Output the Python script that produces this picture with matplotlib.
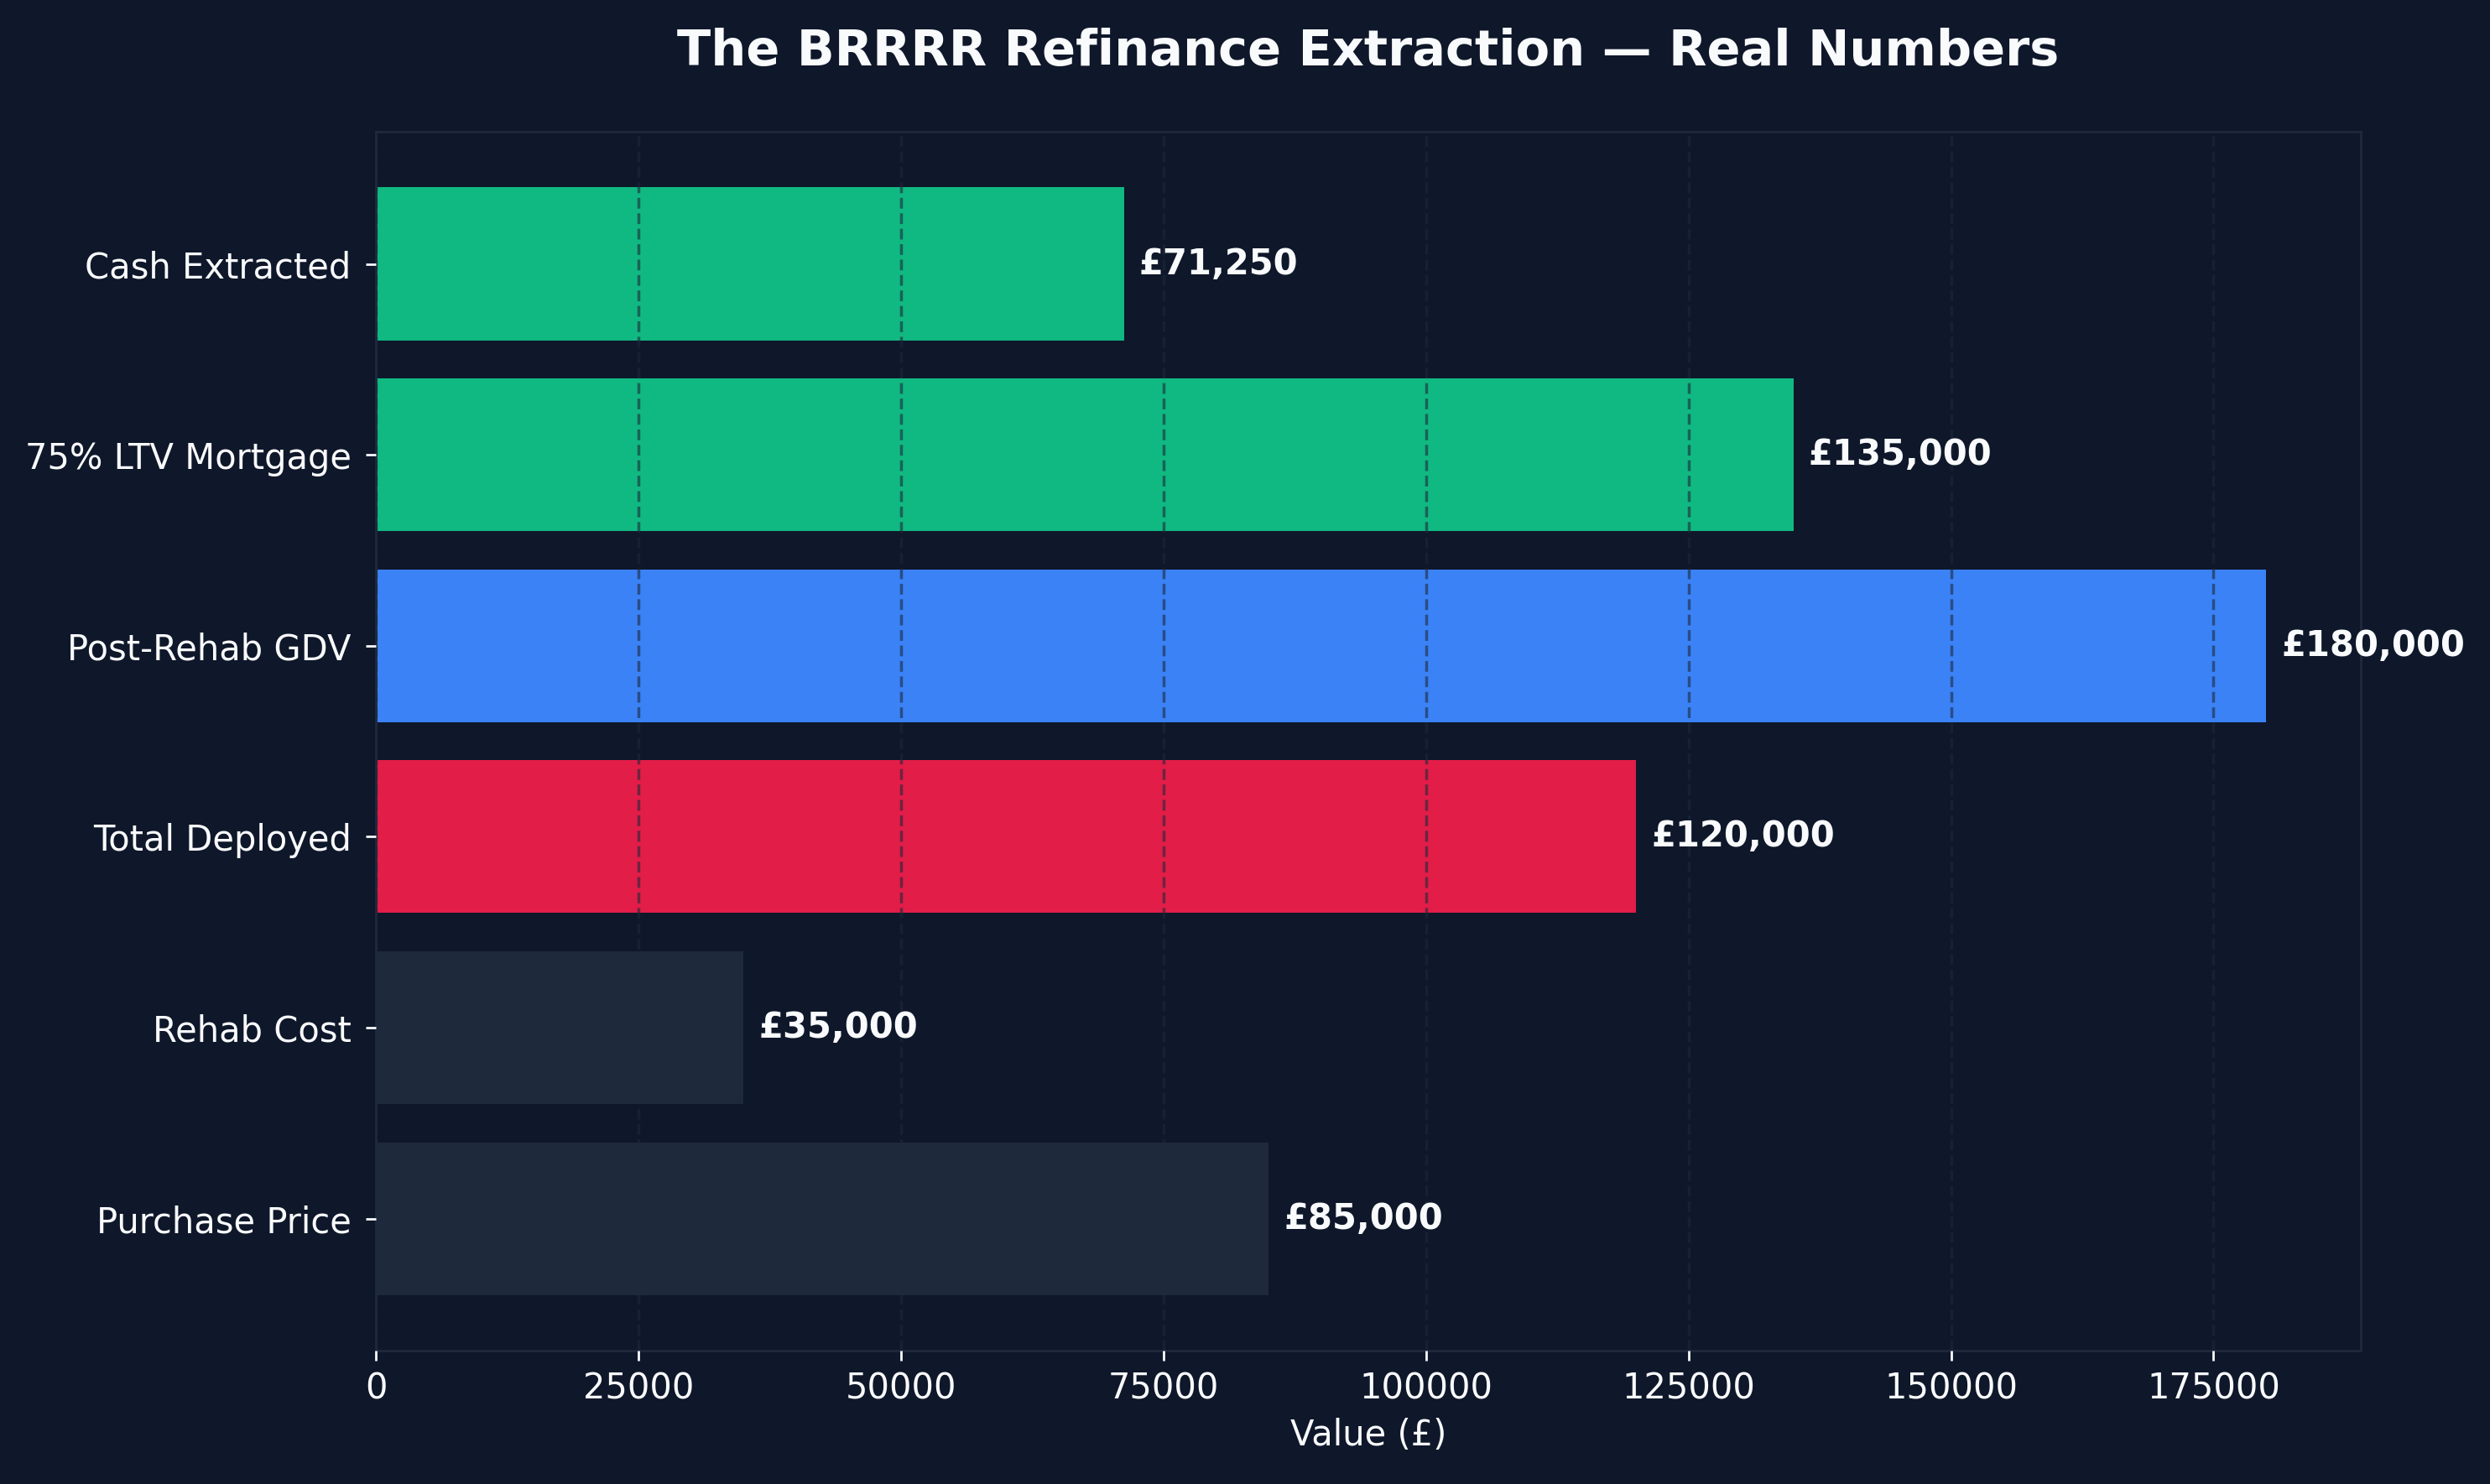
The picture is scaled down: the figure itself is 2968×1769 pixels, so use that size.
import numpy as np
import matplotlib.pyplot as plt

# BRRRR deal numbers (bottom to top)
labels = ['Purchase Price', 'Rehab Cost', 'Total Deployed', 'Post-Rehab GDV',
          '75% LTV Mortgage', 'Cash Extracted']
values = [85000, 35000, 120000, 180000, 135000, 71250]
colors = ['#1e293b', '#1e293b', '#e11d48', '#3b82f6', '#10b981', '#10b981']

BG = '#0f172a'
TXT = '#f8fafc'

fig, ax = plt.subplots(figsize=(11.872, 7.076), dpi=250)
fig.patch.set_facecolor(BG)
ax.set_facecolor(BG)
fig.subplots_adjust(left=0.151, right=0.948, top=0.911, bottom=0.090)

y = np.arange(len(labels))
ax.barh(y, values, color=colors, height=0.8)
ax.set_yticks(y)
ax.set_yticklabels(labels)

off = max(values) * 0.008
for yi, v in zip(y, values):
    ax.text(v + off, yi, '£{:,}'.format(v), va='center', ha='left',
            color=TXT, fontsize=12, fontweight='bold')

ax.set_xlim(0, max(values) * 1.05)
ax.set_axisbelow(False)
ax.grid(axis='x', color='#1e293b', linestyle='--', linewidth=1.0, alpha=0.6)

ax.set_title('The BRRRR Refinance Extraction — Real Numbers', color=TXT,
             fontsize=17, fontweight='bold', pad=23)
ax.set_xlabel('Value (£)', color=TXT, fontsize=12)
ax.tick_params(colors=TXT, labelsize=12)
ax.tick_params(axis='y', pad=5)
for s in ax.spines.values():
    s.set_color('#1e293b')

plt.savefig('out.png', dpi=250, facecolor=BG)
